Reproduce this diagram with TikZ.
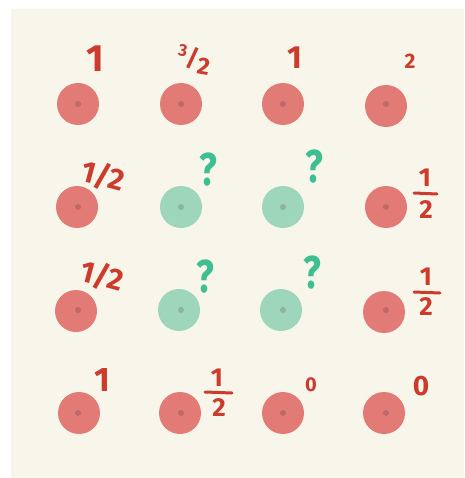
\documentclass[tikz,border=0pt]{standalone}
\usepackage{fontspec}
\setmainfont{Fira Sans}
\definecolor{bg}{HTML}{F8F5EA}
\definecolor{redfill}{HTML}{E27B76}
\definecolor{reddot}{HTML}{C06868}
\definecolor{greenfill}{HTML}{9DD6BA}
\definecolor{greendot}{HTML}{8DB3A0}
\definecolor{redink}{HTML}{CC3B2B}
\definecolor{greenink}{HTML}{3DBF92}
\tikzset{
  redpt/.style={circle, fill=redfill, minimum size=42pt, inner sep=0pt},
  greenpt/.style={circle, fill=greenfill, minimum size=42pt, inner sep=0pt},
  rdot/.style={circle, fill=reddot, minimum size=6pt, inner sep=0pt},
  gdot/.style={circle, fill=greendot, minimum size=6pt, inner sep=0pt},
  rlab/.style={text=redink, font=\bfseries, inner sep=0pt},
  glab/.style={text=greenink, font=\bfseries\fontsize{46}{46}\selectfont, inner sep=0pt, xscale=0.8},
  fracbar/.style={draw=redink, line width=3pt, line cap=round},
}
\begin{document}
\begin{tikzpicture}[x=1pt,y=-1pt]
\useasboundingbox (0,0) rectangle (464,478);
\fill[white] (0,0) rectangle (464,478);
\fill[bg] (11,9) rectangle (464,478);
% points
\foreach \n/\x/\y/\s in {a1/78/104/redpt, a2/181/104/redpt, a3/283/104/redpt, a4/386/106/redpt,
  b1/77/207/redpt, b2/181/207/greenpt, b3/283/207/greenpt, b4/386/207/redpt,
  c1/76/311/redpt, c2/179/310/greenpt, c3/281/310/greenpt, c4/384/312/redpt,
  d1/79/413/redpt, d2/180/413/redpt, d3/283/413/redpt, d4/384/413/redpt}{
  \node[\s] (\n) at (\x,\y) {};
}
\foreach \n/\x/\y in {a1/78/104, a2/181/104, a3/283/104, a4/386/104,
  b1/78/207, b4/386/207, c1/78/310, c4/386/310,
  d1/78/413, d2/181/413, d3/283/413, d4/386/413}{
  \node[rdot] (\n dot) at (\x,\y) {};
}
\foreach \n/\x/\y in {b2/181/207, b3/283/207, c2/181/310, c3/283/310}{
  \node[gdot] (\n dot) at (\x,\y) {};
}
% row 1 labels
\node[rlab, font=\bfseries\fontsize{38}{38}\selectfont] (la1) at (95,59) {1};
\node[rlab, font=\bfseries\fontsize{24}{24}\selectfont, rotate=-10] (la2) at (194,60) {\raisebox{9pt}{\fontsize{17}{17}\selectfont 3}/\raisebox{-6pt}{2}};
\node[rlab, font=\bfseries\fontsize{32}{32}\selectfont] (la3) at (295,58) {1};
\node[rlab, font=\bfseries\fontsize{21}{21}\selectfont] (la4) at (410,61) {2};
% row 2 labels
\node[rlab, font=\bfseries\fontsize{30}{30}\selectfont, rotate=-15] (lb1) at (103,176) {1/2};
\node[glab] (lb2) at (208,170) {?};
\node[glab] (lb3) at (314,167) {?};
\node[rlab, font=\bfseries\fontsize{26}{26}\selectfont] (lb4n) at (425,178) {1};
\node[rlab, font=\bfseries\fontsize{26}{26}\selectfont] (lb4d) at (426,210) {2};
\draw[fracbar] (414,193) -- (437,194);
% row 3 labels
\node[rlab, font=\bfseries\fontsize{30}{30}\selectfont, rotate=-15] (lc1) at (102,276) {1/2};
\node[glab] (lc2) at (205,277) {?};
\node[glab] (lc3) at (312,273) {?};
\node[rlab, font=\bfseries\fontsize{26}{26}\selectfont] (lc4n) at (426,277) {1};
\node[rlab, font=\bfseries\fontsize{26}{26}\selectfont] (lc4d) at (426,307) {2};
\draw[fracbar] (414,292) -- (440,293);
% row 4 labels
\node[rlab, font=\bfseries\fontsize{34}{34}\selectfont] (ld1) at (102,380) {1};
\node[rlab, font=\bfseries\fontsize{26}{26}\selectfont] (ld2n) at (217,378) {1};
\node[rlab, font=\bfseries\fontsize{26}{26}\selectfont] (ld2d) at (219,408) {2};
\draw[fracbar] (205,392) -- (232,393);
\node[rlab, font=\bfseries\fontsize{20}{20}\selectfont] (ld3) at (311,385) {0};
\node[rlab, font=\bfseries\fontsize{28}{28}\selectfont] (ld4) at (421,386) {0};
\end{tikzpicture}
\end{document}
